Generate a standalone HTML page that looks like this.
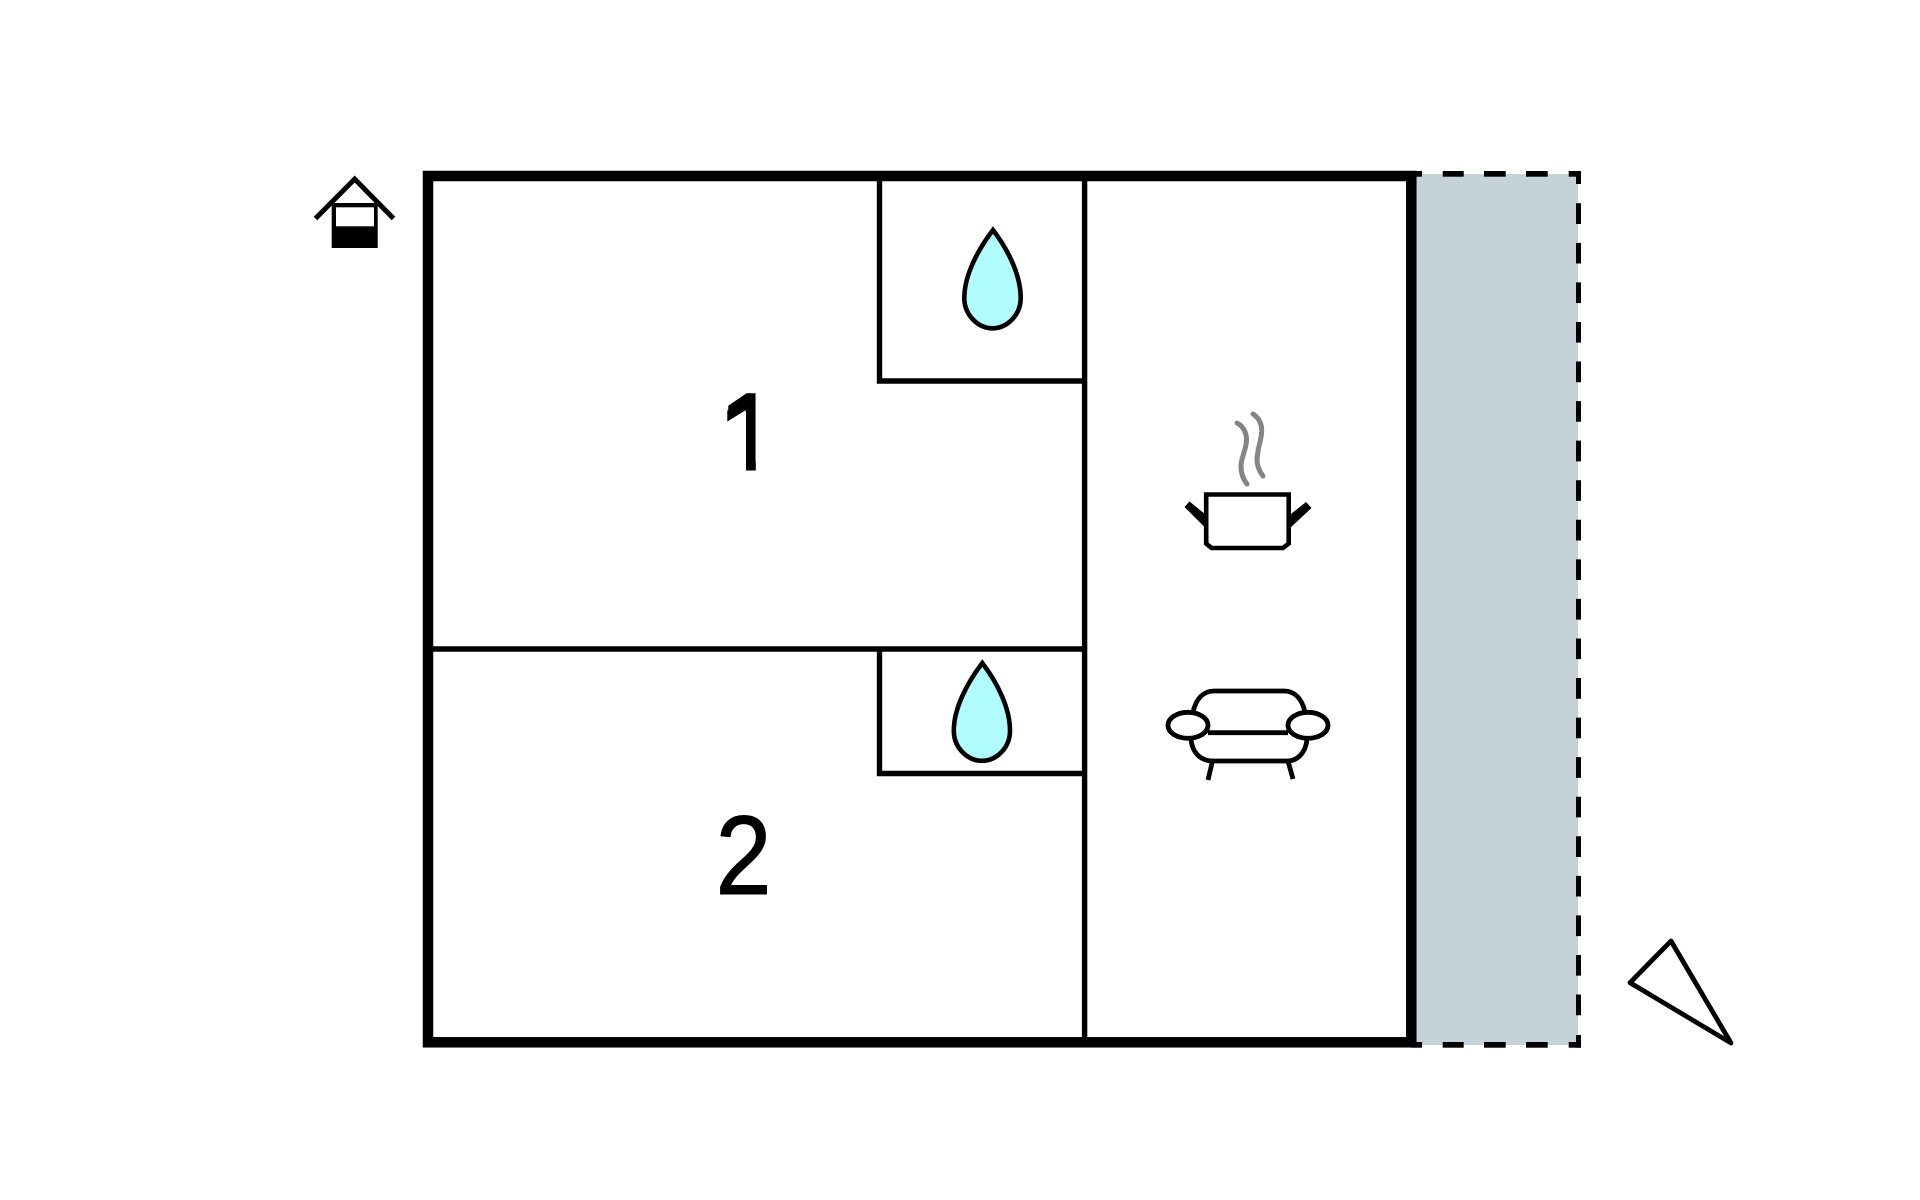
<!DOCTYPE html>
<html>
<head>
<meta charset="utf-8">
<style>
html,body{margin:0;padding:0;background:#fff;width:1920px;height:1200px;overflow:hidden}
svg{display:block}
text{font-family:"Liberation Sans",Arial,sans-serif;font-size:112px;fill:#000}
</style>
</head>
<body>
<svg width="1920" height="1200" viewBox="0 0 1920 1200" xmlns="http://www.w3.org/2000/svg">
<rect width="1920" height="1200" fill="#fff"/>
<!-- terrace -->
<rect x="1416" y="174" width="162" height="871" fill="#c6d2d9"/>
<g fill="#000">
<!-- top dashes -->
<rect x="1411" y="171" width="11" height="5.7"/>
<rect x="1442.7" y="171" width="21" height="5.7"/>
<rect x="1484" y="171" width="21.7" height="5.7"/>
<rect x="1526" y="171" width="21.7" height="5.7"/>
<rect x="1568.7" y="171" width="12.3" height="5.7"/>
<!-- bottom dashes -->
<rect x="1411" y="1042" width="11" height="5.7"/>
<rect x="1442.7" y="1042" width="21" height="5.7"/>
<rect x="1484" y="1042" width="21.7" height="5.7"/>
<rect x="1526" y="1042" width="21.7" height="5.7"/>
<rect x="1568.7" y="1042" width="12.3" height="5.7"/>
<rect x="1576" y="171" width="5" height="13"/>
<rect x="1576" y="1035" width="5" height="12.7"/>
</g>
<line x1="1578.5" y1="203.3" x2="1578.5" y2="1016" stroke="#000" stroke-width="5" stroke-dasharray="20.7 18.86"/>
<!-- walls -->
<rect x="428" y="176" width="983.3" height="866.3" fill="none" stroke="#000" stroke-width="10.5"/>
<g stroke="#000" stroke-width="5.4" fill="none">
<line x1="1084.6" y1="176" x2="1084.6" y2="1042"/>
<line x1="428" y1="649" x2="1087" y2="649"/>
<polyline points="879.5,176 879.5,381 1084.6,381"/>
<polyline points="879.5,649 879.5,773.5 1084.6,773.5"/>
</g>
<!-- drops -->
<path d="M993 230C977 251 964.3 276 964.3 298C964.3 315 978 328.3 992.5 328.3C1007 328.3 1020.7 315 1020.7 298C1020.7 276 1009 251 993 230Z" fill="#b0fcff" stroke="#000" stroke-width="4.6" stroke-miterlimit="10"/>
<path d="M982.3 663C966.3 684 953.8 709 953.8 730.7C953.8 747.7 967.5 760.8 982 760.8C996.5 760.8 1010 747.7 1010 730.7C1010 709 998.3 684 982.3 663Z" fill="#b0fcff" stroke="#000" stroke-width="4.6" stroke-miterlimit="10"/>
<!-- numbers -->
<text x="717.5" y="470.7">1</text>
<rect x="716" y="412" width="30" height="62" fill="#fff"/>
<rect x="716" y="392" width="11.3" height="24" fill="#fff"/>
<rect x="755.8" y="385" width="30" height="90" fill="#fff"/>
<polygon points="727.3,410.5 740,401.7 748.3,393.3 750,393.3 750,410 746,410 727.3,421.5" fill="#000"/>
<text transform="translate(715.5,893.8) scale(0.9,1)" x="0" y="0" stroke="#000" stroke-width="1.1">2</text>
<!-- house -->
<polyline points="315.5,218.5 354.7,179 393.5,218.5" fill="none" stroke="#000" stroke-width="5"/>
<rect x="331.7" y="203" width="46" height="45" fill="#000"/>
<rect x="336" y="207.3" width="38" height="19" fill="#fff"/>
<!-- pot -->
<path d="M1206.2 494.5H1288.7V543.5L1283 548H1211.5L1206.2 543.5Z" fill="none" stroke="#000" stroke-width="4.6"/>
<polygon points="1184.5,507 1189.5,501.5 1205.5,514.5 1205.5,528" fill="#000"/>
<polygon points="1311.5,508 1306,502 1289,515.5 1289,529" fill="#000"/>
<g stroke="#858585" stroke-width="5" fill="none" stroke-linecap="round">
<path d="M1237 423C1243 426 1247 433 1246.5 441C1246 450 1241 458 1241 466C1241 473 1243 479 1247 484"/>
<path d="M1253 414C1259 418 1262 424 1261.7 432C1261 442 1257 450 1257 460C1257 467 1260 472 1263 476"/>
</g>
<!-- sofa -->
<g fill="none" stroke="#000" stroke-width="4.8">
<path d="M1193 712C1196 699 1203 691 1214 691H1284C1295 691 1302 699 1305 712"/>
<line x1="1208" y1="732.7" x2="1288" y2="732.7"/>
<path d="M1191 739C1192 752 1200 761 1213 761H1287C1298 761 1306 752 1307 739"/>
<line x1="1212.5" y1="761" x2="1208" y2="780"/>
<line x1="1288" y1="761" x2="1293" y2="779"/>
<ellipse cx="1188" cy="725.3" rx="20" ry="13"/>
<ellipse cx="1308" cy="725.3" rx="20" ry="13"/>
</g>
<!-- north arrow -->
<polygon points="1671,941 1630,982.7 1731,1043" fill="none" stroke="#000" stroke-width="4.8" stroke-linejoin="round"/>
</svg>
</body>
</html>
